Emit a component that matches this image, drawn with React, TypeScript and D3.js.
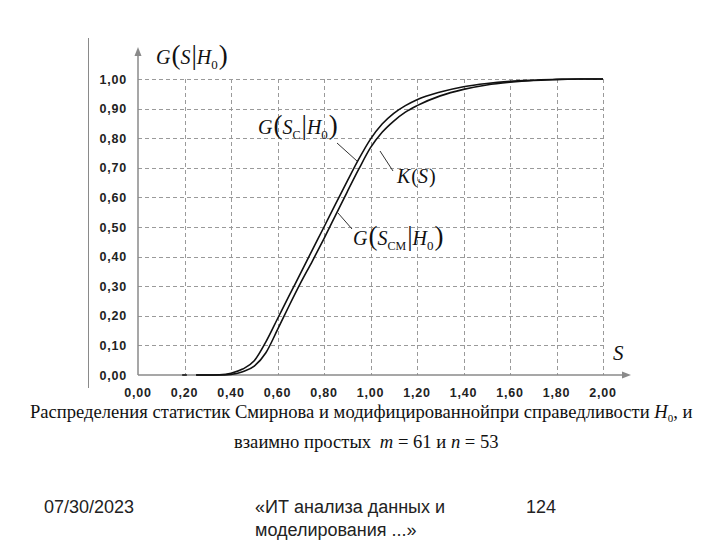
import React from 'react';
import * as d3 from 'd3';

// Data
const sValues = [0.25, 0.3, 0.35, 0.4, 0.45, 0.5, 0.55, 0.6, 0.65, 0.7, 0.75, 0.8, 0.85, 0.9, 0.95, 1.0, 1.05, 1.1, 1.15, 1.2, 1.3, 1.4, 1.5, 1.6, 1.7, 1.8, 1.9, 2.0];
const gScValues = [0, 0, 0.001, 0.006, 0.02, 0.048, 0.112, 0.19, 0.268, 0.345, 0.423, 0.5, 0.578, 0.655, 0.73, 0.797, 0.848, 0.884, 0.91, 0.93, 0.956, 0.974, 0.985, 0.992, 0.996, 0.999, 1.0, 1.0];
const kValues = [0, 0, 0, 0.002, 0.011, 0.03, 0.075, 0.153, 0.234, 0.312, 0.385, 0.461, 0.54, 0.619, 0.696, 0.768, 0.82, 0.858, 0.888, 0.91, 0.943, 0.965, 0.98, 0.989, 0.995, 0.998, 1.0, 1.0];
const xTicks = [0, 0.2, 0.4, 0.6, 0.8, 1.0, 1.2, 1.4, 1.6, 1.8, 2.0];
const yTicks = [0, 0.1, 0.2, 0.3, 0.4, 0.5, 0.6, 0.7, 0.8, 0.9, 1.0];
const captionLine1 = 'Распределения статистик Смирнова и модифицированнойпри справедливости ';
const captionLine2a = 'взаимно простых ';
const footerDate = '07/30/2023';
const footerTitle1 = '«ИТ анализа данных и';
const footerTitle2 = 'моделирования ...»';
const footerPage = '124';

const x = d3.scaleLinear().domain([0, 2]).range([138, 603]);
const y = d3.scaleLinear().domain([0, 1]).range([375, 79]);
const fmt = (v: number) => v.toFixed(2).replace('.', ',');

const serif = '"Liberation Serif", "Times New Roman", serif';
const sans = '"Liberation Sans", Arial, sans-serif';

function Formula({ px, py, sub }: { px: number; py: number; sub?: string }) {
  return (
    <text x={px} y={py} fontFamily={serif} fontStyle="italic" fontSize={20} fill="#111">
      <tspan>G</tspan>
      <tspan fontStyle="normal" fontSize={27} dx={1}>(</tspan>
      <tspan>S</tspan>
      {sub ? <tspan fontStyle="normal" fontSize={12} dy={5}>{sub}</tspan> : null}
      <tspan fontStyle="normal" fontSize={27} dy={sub ? -5 : 0} dx={1}>|</tspan>
      <tspan>H</tspan>
      <tspan fontStyle="normal" fontSize={13} dy={5}>0</tspan>
      <tspan fontStyle="normal" fontSize={27} dy={-5} dx={1}>)</tspan>
    </text>
  );
}

export default function App() {
  const line = d3
    .line<number>()
    .x((_, i) => x(sValues[i]))
    .curve(d3.curveMonotoneX);
  const pathG = line.y((v) => y(v))(gScValues) || '';
  const pathK = line.y((v) => y(v))(kValues) || '';
  const gridColor = '#9a9a9a';
  return (
    <svg width={720} height={540} style={{ position: 'absolute', left: 0, top: 0, background: '#fff' }}>
      {/* frame line at left */}
      <line x1={88.5} x2={88.5} y1={38} y2={388} stroke="#8a8a8a" strokeWidth={1} />
      {/* grid */}
      {yTicks.filter((t) => t > 0).map((t) => (
        <line key={'h' + t} x1={x(0)} x2={x(2)} y1={Math.round(y(t)) + 0.5} y2={Math.round(y(t)) + 0.5} stroke={gridColor} strokeDasharray="4,3" strokeWidth={1} />
      ))}
      {xTicks.filter((t) => t > 0).map((t) => (
        <line key={'v' + t} x1={Math.round(x(t)) + 0.5} x2={Math.round(x(t)) + 0.5} y1={y(1)} y2={y(0)} stroke={gridColor} strokeDasharray="4,3" strokeWidth={1} />
      ))}
      {/* axes */}
      <line x1={x(0)} x2={x(0)} y1={y(0)} y2={54} stroke="#8a8a8a" strokeWidth={1.5} />
      <path d={`M${x(0) - 3.5},${56} L${x(0)},${47} L${x(0) + 3.5},${56} Z`} fill="#8a8a8a" />
      <line x1={x(0)} x2={624} y1={y(0)} y2={y(0)} stroke="#8a8a8a" strokeWidth={1.5} />
      <path d={`M${622},${y(0) - 3.5} L${631},${y(0)} L${622},${y(0) + 3.5} Z`} fill="#8a8a8a" />
      {/* tick labels */}
      {yTicks.map((t) => (
        <text key={'yl' + t} x={127} y={y(t) + 4.5} textAnchor="end" fontFamily={sans} fontWeight="bold" fontSize={12.5} letterSpacing={0.8} fill="#222">
          {fmt(t)}
        </text>
      ))}
      {xTicks.map((t) => (
        <text key={'xl' + t} x={x(t)} y={397} textAnchor="middle" fontFamily={sans} fontWeight="bold" fontSize={12.5} letterSpacing={0.8} fill="#222">
          {fmt(t)}
        </text>
      ))}
      {/* small starting step */}
      <line x1={x(0.19)} x2={x(0.21)} y1={y(0)} y2={y(0)} stroke="#333" strokeWidth={2} />
      {/* curves */}
      <path d={pathK} fill="none" stroke="#111" strokeWidth={1.6} />
      <path d={pathG} fill="none" stroke="#111" strokeWidth={1.6} />
      {/* annotation pointers */}
      <line x1={337} y1={143} x2={357} y2={161} stroke="#333" strokeWidth={1} />
      <line x1={393} y1={171} x2={380} y2={151} stroke="#333" strokeWidth={1} />
      <line x1={352} y1={229} x2={338} y2={213} stroke="#333" strokeWidth={1} />
      {/* annotation labels */}
      <Formula px={156} py={64} />
      <Formula px={258} py={134} sub="C" />
      <text x={397} y={183} fontFamily={serif} fontStyle="italic" fontSize={20} fill="#111">
        K<tspan fontStyle="normal" dx={1}>(</tspan>S<tspan fontStyle="normal" dx={1}>)</tspan>
      </text>
      <Formula px={353} py={245} sub="CM" />
      <text x={613} y={360} fontFamily={serif} fontStyle="italic" fontSize={21} fill="#111">S</text>
      {/* caption */}
      <text x={30} y={418} fontFamily={serif} fontSize={18.6} fill="#111">
        {captionLine1}
        <tspan fontStyle="italic">H</tspan>
        <tspan fontSize={11} dy={4}>0</tspan>
        <tspan dy={-4}>, и</tspan>
      </text>
      <text x={234} y={448} fontFamily={serif} fontSize={18.6} fill="#111">
        {captionLine2a}
        <tspan fontStyle="italic" dx={4}>m</tspan>
        <tspan> = 61 и </tspan>
        <tspan fontStyle="italic">n</tspan>
        <tspan> = 53</tspan>
      </text>
      {/* footer */}
      <text x={44} y={513} fontFamily={sans} fontSize={18} fill="#222">{footerDate}</text>
      <text x={255} y={513} fontFamily={sans} fontSize={18} fill="#222">{footerTitle1}</text>
      <text x={255} y={536} fontFamily={sans} fontSize={18} fill="#222">{footerTitle2}</text>
      <text x={526} y={513} fontFamily={sans} fontSize={18} fill="#222">{footerPage}</text>
    </svg>
  );
}
